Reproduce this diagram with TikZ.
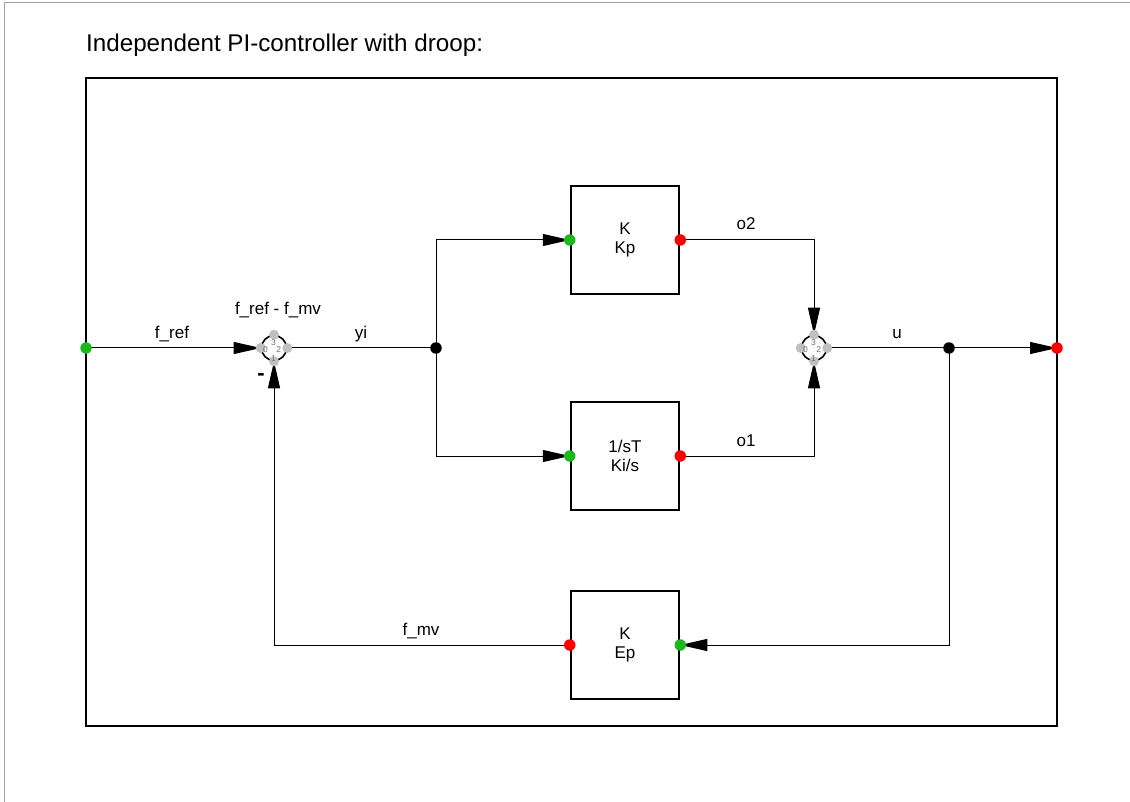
\documentclass[tikz,border=0pt]{standalone}
\usepackage{fontspec}
\setmainfont{Liberation Sans}
\usetikzlibrary{arrows.meta,backgrounds}
\definecolor{portgreen}{HTML}{1DB81D}
\definecolor{portred}{HTML}{FF0000}
\definecolor{pingray}{HTML}{C0C0C0}
\definecolor{numgray}{HTML}{707070}
\definecolor{pageline}{HTML}{A0A0A0}
\tikzset{block/.style={draw,line width=2.5pt,minimum width=108pt,minimum height=108pt,align=center,font=\fontsize{17}{19}\selectfont},sumj/.style={draw,circle,line width=1.6pt,minimum size=25pt,inner sep=0pt},pin/.style={circle,fill=pingray,minimum size=10pt,inner sep=0pt},pinnum/.style={text=numgray,inner sep=0pt,font=\fontsize{8.5}{9}\selectfont},inport/.style={circle,fill=portgreen,minimum size=11.5pt,inner sep=0pt},outport/.style={circle,fill=portred,minimum size=11.5pt,inner sep=0pt},junc/.style={circle,fill=black,minimum size=11.5pt,inner sep=0pt},wire/.style={line width=1pt},feed/.style={wire,-{Triangle[length=27pt,width=12pt]}},lbl/.style={anchor=base,font=\fontsize{17}{19}\selectfont}}
\begin{document}
\begin{tikzpicture}[x=1pt,y=-1pt]
\useasboundingbox (0,0) rectangle (1130,802);
\draw[pageline,line width=1pt] (4,802) -- (4,3) -- (1130,3);
\node[anchor=base west,inner sep=0pt,font=\fontsize{24.2}{28}\selectfont] (title) at (86,52) {Independent PI-controller with droop:};
\draw[line width=2pt] (86,78) rectangle (1057,726);
% blocks
\node[block] (kp) at (625,240) {K\\Kp};
\node[block] (ki) at (625,456) {1/sT\\Ki/s};
\node[block] (ep) at (625,645) {K\\Ep};
% summing junctions
\node[sumj] (s1) at (274,348) {};
\node[sumj] (s2) at (814,348) {};
\foreach \s in {s1,s2}{
  \node[pin] (\s-w) at (\s.west) {};
  \node[pin] (\s-e) at (\s.east) {};
  \node[pin] (\s-n) at (\s.north) {};
  \node[pin] (\s-s) at (\s.south) {};
  \node[pinnum] at ([shift={(-8.5,2)}]\s.center) {0};
  \node[pinnum] at ([shift={(-0.5,11)}]\s.center) {1};
  \node[pinnum] at ([shift={(4.7,2)}]\s.center) {2};
  \node[pinnum] at ([shift={(-0.5,-5.5)}]\s.center) {3};
}
% ports
\node[inport] (fin) at (86,348) {};
\node[outport] (fout) at (1057,348) {};
\node[inport] (kpin) at (kp.west) {};
\node[outport] (kpout) at (kp.east) {};
\node[inport] (kiin) at (ki.west) {};
\node[outport] (kiout) at (ki.east) {};
\node[inport] (epin) at (ep.east) {};
\node[outport] (epout) at (ep.west) {};
\node[junc] (jyi) at (436,348) {};
\node[junc] (ju) at (949,348) {};
% wires
\begin{scope}[on background layer]
\draw[feed] (fin.center) -- (s1-w.center);
\draw[wire] (s1-e.center) -- (jyi.center);
\draw[feed] (jyi.center) |- (kpin.center);
\draw[feed] (jyi.center) |- (kiin.center);
\draw[feed] (kpout.center) -| (s2-n.center);
\draw[feed] (kiout.center) -| (s2-s.center);
\draw[wire] (s2-e.center) -- (ju.center);
\draw[feed] (ju.center) -- (fout.center);
\draw[feed] (ju.center) |- (epin.center);
\draw[feed] (epout.center) -| (s1-s.center);
\end{scope}
% labels
\node[lbl] (lfref) at (172,338) {f\_ref};
\node[lbl] (ldiff) at (278,315) {f\_ref - f\_mv};
\node[lbl] (lyi) at (361,338) {yi};
\node[lbl] (lo2) at (746,230) {o2};
\node[lbl] (lo1) at (746,446) {o1};
\node[lbl] (lu) at (897,338) {u};
\node[lbl] (lfmv) at (421,635) {f\_mv};
\node[font=\fontsize{22}{24}\selectfont\bfseries,inner sep=0pt] (neg) at (261,377) {-};
\end{tikzpicture}
\end{document}
